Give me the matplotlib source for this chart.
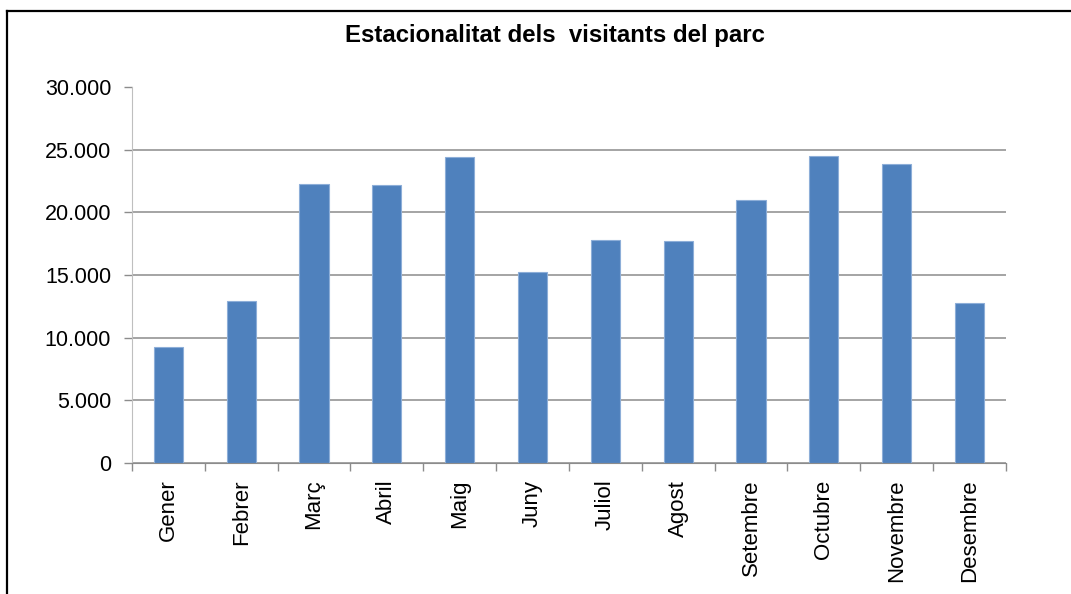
import matplotlib.pyplot as plt
from matplotlib.lines import Line2D
from matplotlib.ticker import FuncFormatter
import numpy as np

# Dades llegides del gràfic original
mesos = ['Gener', 'Febrer', 'Març', 'Abril', 'Maig', 'Juny',
         'Juliol', 'Agost', 'Setembre', 'Octubre', 'Novembre', 'Desembre']
visitants = [9260, 12930, 22290, 22190, 24420, 15270,
             17820, 17720, 20960, 24530, 23830, 12740]
y_ticks = [0, 5000, 10000, 15000, 20000, 25000, 30000]
titol = 'Estacionalitat dels  visitants del parc'

plt.rcParams['font.family'] = ['Liberation Sans', 'DejaVu Sans']

fig = plt.figure(figsize=(10.71, 5.94), dpi=100)
ax = fig.add_axes([0.1232, 0.2205, 0.8161, 0.633])

x = np.arange(len(mesos))
ax.bar(x, visitants, width=0.4, color='#4F81BD', edgecolor='#8DAED8',
       linewidth=0.8, zorder=3)

ax.set_xlim(-0.5, len(mesos) - 0.5)
ax.set_ylim(y_ticks[0], y_ticks[-1])
ax.set_yticks(y_ticks)
ax.yaxis.set_major_formatter(FuncFormatter(lambda v, p: f"{int(v):,}".replace(',', '.')))

# Quadrícula horitzontal (sense la línia superior, com a l'original)
ax.yaxis.grid(True, color='#8C8C8C', linewidth=1.1, zorder=0)
ax.get_ygridlines()[-1].set_visible(False)

# Etiquetes de l'eix X girades i marques entre categories
ax.set_xticks(x)
ax.set_xticklabels(mesos, rotation=90, fontsize=16)
ax.set_xticks(np.arange(len(mesos) + 1) - 0.5, minor=True)
ax.tick_params(axis='x', which='major', length=0, pad=12)
ax.tick_params(axis='x', which='minor', length=6, width=1, color='#8C8C8C', direction='out')
ax.tick_params(axis='y', length=6, width=1, color='#8C8C8C', labelsize=15.5, pad=9)

for side in ['top', 'right']:
    ax.spines[side].set_visible(False)
ax.spines['left'].set_color('#BFBFBF')
ax.spines['bottom'].set_color('#8C8C8C')
ax.spines['bottom'].set_zorder(4)

fig.text(0.518, 0.94, titol, ha='center', va='center', fontsize=17.3,
         fontweight='bold')

# Vora del gràfic (només esquerra i superior visibles)
fig.add_artist(Line2D([0.0061, 0.0061], [0.0, 0.9823], color='black', linewidth=1.6))
fig.add_artist(Line2D([0.0061, 1.0], [0.9823, 0.9823], color='black', linewidth=1.6))

fig.savefig('out.png', dpi=100)
